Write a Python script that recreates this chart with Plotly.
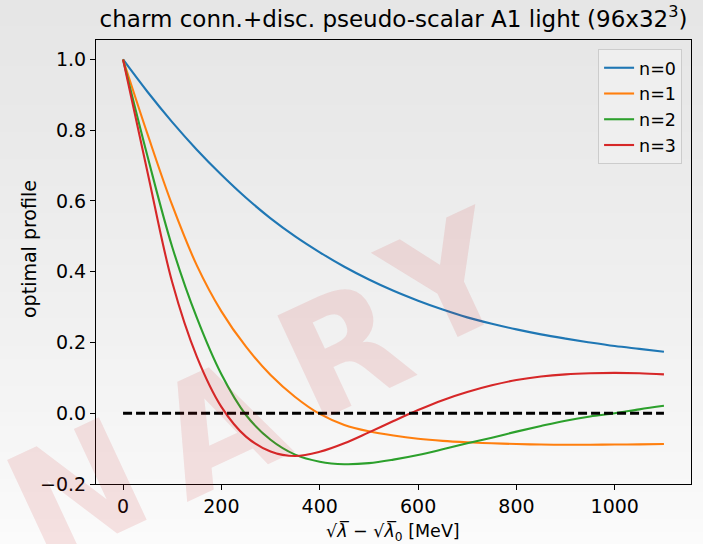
import plotly.graph_objects as go

# ---- data ----
x_vals = [0, 50, 100, 150, 200, 250, 300, 350, 400, 450, 500, 550, 600, 650,
          700, 750, 800, 850, 900, 950, 1000, 1050, 1100]
n0_vals = [1.0, 0.908, 0.823, 0.745, 0.674, 0.609, 0.551, 0.500, 0.455, 0.414, 0.378,
           0.346, 0.318, 0.293, 0.271, 0.253, 0.237, 0.223, 0.211, 0.200, 0.190, 0.182, 0.174]
n1_vals = [1.0, 0.788, 0.588, 0.418, 0.288, 0.188, 0.108, 0.046, -0.002, -0.033, -0.051,
           -0.063, -0.072, -0.078, -0.082, -0.085, -0.087, -0.0885, -0.089, -0.089,
           -0.0885, -0.088, -0.087]
n2_vals = [1.0, 0.725, 0.47, 0.27, 0.11, -0.005, -0.075, -0.117, -0.137, -0.144, -0.141,
           -0.131, -0.118, -0.102, -0.085, -0.069, -0.052, -0.036, -0.021, -0.009, 0.0,
           0.011, 0.021]
n3_vals = [1.0, 0.68, 0.37, 0.16, 0.018, -0.066, -0.108, -0.121, -0.109, -0.085, -0.054,
           -0.022, 0.009, 0.037, 0.060, 0.079, 0.094, 0.104, 0.110, 0.113, 0.114, 0.113, 0.110]
series_names = ["n=0", "n=1", "n=2", "n=3"]
series_colors = ["#1f77b4", "#ff7f0e", "#2ca02c", "#d62728"]
zero_x = [0, 1100]
zero_y = [0, 0]
x_ticks = [0, 200, 400, 600, 800, 1000]
y_ticks = [-0.2, 0.0, 0.2, 0.4, 0.6, 0.8, 1.0]
watermark_letters = ["N", "A", "R", "Y"]
x_title = "√<i>λ̅</i> − √<i>λ̅</i><sub>0</sub> [MeV]"
y_title = "optimal profile"
main_title = "charm conn.+disc. pseudo-scalar A1 light (96x32<sup>3</sup>)"

FONT = "DejaVu Sans"
L, R, T, B = 96, 12, 40, 60
W, H = 703, 544
PW, PH = W - L - R, H - T - B


def px2paper(px, py):
    return (px - L) / PW, (H - B - py) / PH


fig = go.Figure()
for name, col, ys in zip(series_names, series_colors, [n0_vals, n1_vals, n2_vals, n3_vals]):
    fig.add_trace(go.Scatter(x=x_vals, y=ys, mode="lines", name=name,
                             line=dict(color=col, width=2.1, shape="spline", smoothing=1.0)))
fig.add_trace(go.Scatter(x=zero_x, y=zero_y, mode="lines", showlegend=False,
                         line=dict(color="black", width=3, dash="9px,4px")))

# background gradient bands (light grey at top to near white at bottom)
shapes = []
nb = 44
y_top, y_bot = 1.12, -0.2
for i in range(nb):
    t = i / (nb - 1)
    c = int(round(230 + (252 - 230) * (t ** 1.3)))
    y1 = y_top - (y_top - y_bot) * i / nb
    y0 = y_top - (y_top - y_bot) * (i + 1) / nb
    shapes.append(dict(type="rect", xref="paper", yref="paper", x0=-0.2, x1=1.1,
                       y0=y0 - 0.002, y1=y1 + 0.002, line=dict(width=0),
                       fillcolor=f"rgb({c},{c},{c})", layer="below"))

annotations = []
# watermark letters
wm_pos = [(78, 492), (218, 428), (343, 350), (448, 282)]
for letter, (px, py) in zip(watermark_letters, wm_pos):
    ax, ay = px2paper(px, py)
    annotations.append(dict(text=f"<b>{letter}</b>", xref="paper", yref="paper",
                            x=ax, y=ay, showarrow=False, xanchor="center", yanchor="middle",
                            textangle=-25, font=dict(family=FONT, size=155,
                                                     color="rgba(205,40,40,0.12)")))
# axis titles as annotations (exact placement)
xtx, xty = px2paper(393, 532)
annotations.append(dict(text=x_title, xref="paper", yref="paper", x=xtx, y=xty,
                        showarrow=False, xanchor="center", yanchor="middle",
                        font=dict(family=FONT, size=17.5, color="black")))
ytx, yty = px2paper(29, 249)
annotations.append(dict(text=y_title, xref="paper", yref="paper", x=ytx, y=yty,
                        showarrow=False, xanchor="center", yanchor="middle", textangle=-90,
                        font=dict(family=FONT, size=19, color="black")))

fig.update_layout(
    width=W, height=H,
    margin=dict(l=L, r=R, t=T, b=B),
    paper_bgcolor="#f0f0f0", plot_bgcolor="rgba(0,0,0,0)",
    font=dict(family=FONT, size=19, color="black"),
    title=dict(text=main_title,
               x=0.5, xref="paper", xanchor="center", y=1 - 19 / H, yref="container",
               yanchor="middle", font=dict(family=FONT, size=23, color="black")),
    shapes=shapes,
    annotations=annotations,
    showlegend=True,
    legend=dict(x=0.985, y=0.98, xanchor="right", yanchor="top",
                bgcolor="rgba(240,240,240,0.85)", bordercolor="#cccccc", borderwidth=1,
                font=dict(family=FONT, size=17.5), itemwidth=30, tracegroupgap=0),
)
fig.update_xaxes(range=[-55, 1155], tickvals=x_ticks, ticks="outside", ticklen=5,
                 tickwidth=1, tickcolor="black", showline=True, linecolor="black",
                 linewidth=1, mirror=True, showgrid=False, zeroline=False,
                 automargin=False)
fig.update_yaxes(range=[-0.2, 1.055], tickvals=y_ticks, tickformat=".1f", ticks="outside",
                 ticklen=5, tickwidth=1, tickcolor="black", showline=True,
                 linecolor="black", linewidth=1, mirror=True, showgrid=False,
                 zeroline=False, automargin=False)

fig.write_html("out.html")
